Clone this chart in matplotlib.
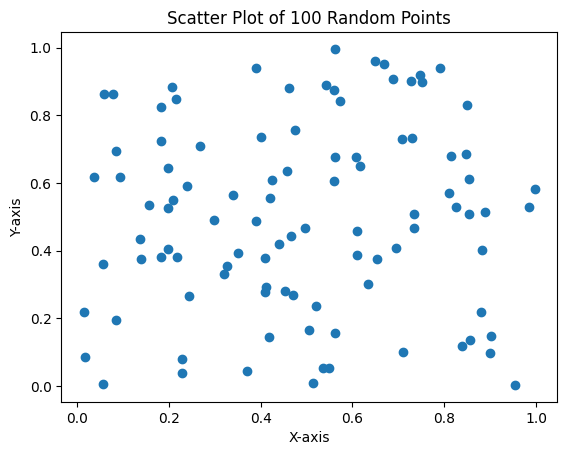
import matplotlib

matplotlib.use("Agg")

import matplotlib.pyplot as plt


x_values = [
    0.058, 0.078, 0.206, 0.215, 0.183, 0.183, 0.267, 0.084, 0.199, 0.037,
    0.093, 0.239, 0.157, 0.209, 0.198, 0.298, 0.137, 0.198, 0.184,
    0.217, 0.139, 0.056, 0.326, 0.320, 0.244, 0.015, 0.084, 0.017, 0.228,
    0.228, 0.056, 0.562, 0.391, 0.650, 0.668, 0.542, 0.559, 0.461, 0.573,
    0.474, 0.400, 0.562, 0.607, 0.616, 0.457, 0.424, 0.559, 0.339, 0.420,
    0.689, 0.727, 0.747, 0.752, 0.790, 0.849, 0.708, 0.729, 0.814, 0.847,
    0.854, 0.811, 0.997, 0.825, 0.984, 0.888, 0.854, 0.734, 0.734, 0.694,
    0.654, 0.883, 0.881, 0.901, 0.856, 0.838, 0.899, 0.710, 0.954, 0.391,
    0.610, 0.496, 0.466, 0.440, 0.350, 0.409, 0.610, 0.634, 0.411, 0.409,
    0.454, 0.471, 0.520, 0.505, 0.562, 0.418, 0.370, 0.535, 0.549, 0.515,
]
y_values = [
    0.863, 0.863, 0.884, 0.848, 0.825, 0.724, 0.709, 0.694, 0.644, 0.618,
    0.618, 0.591, 0.535, 0.549, 0.525, 0.490, 0.434, 0.404, 0.381,
    0.381, 0.375, 0.360, 0.355, 0.331, 0.265, 0.218, 0.195, 0.085, 0.079,
    0.038, 0.005, 0.996, 0.940, 0.961, 0.952, 0.890, 0.875, 0.881, 0.842,
    0.757, 0.736, 0.678, 0.678, 0.650, 0.635, 0.609, 0.606, 0.564, 0.555,
    0.907, 0.901, 0.919, 0.898, 0.940, 0.830, 0.731, 0.733, 0.680, 0.686,
    0.612, 0.570, 0.582, 0.530, 0.529, 0.514, 0.508, 0.508, 0.467, 0.407,
    0.375, 0.401, 0.218, 0.148, 0.135, 0.118, 0.097, 0.100, 0.003, 0.487,
    0.458, 0.467, 0.444, 0.419, 0.393, 0.378, 0.388, 0.301, 0.292, 0.277,
    0.281, 0.268, 0.236, 0.166, 0.156, 0.144, 0.043, 0.052, 0.052, 0.008,
]

plt.figure(figsize=(6.4, 4.8))
plt.scatter(x_values, y_values)
plt.title("Scatter Plot of 100 Random Points")
plt.xlabel("X-axis")
plt.ylabel("Y-axis")
plt.savefig("out.png", dpi=100, bbox_inches="tight")
plt.close()
